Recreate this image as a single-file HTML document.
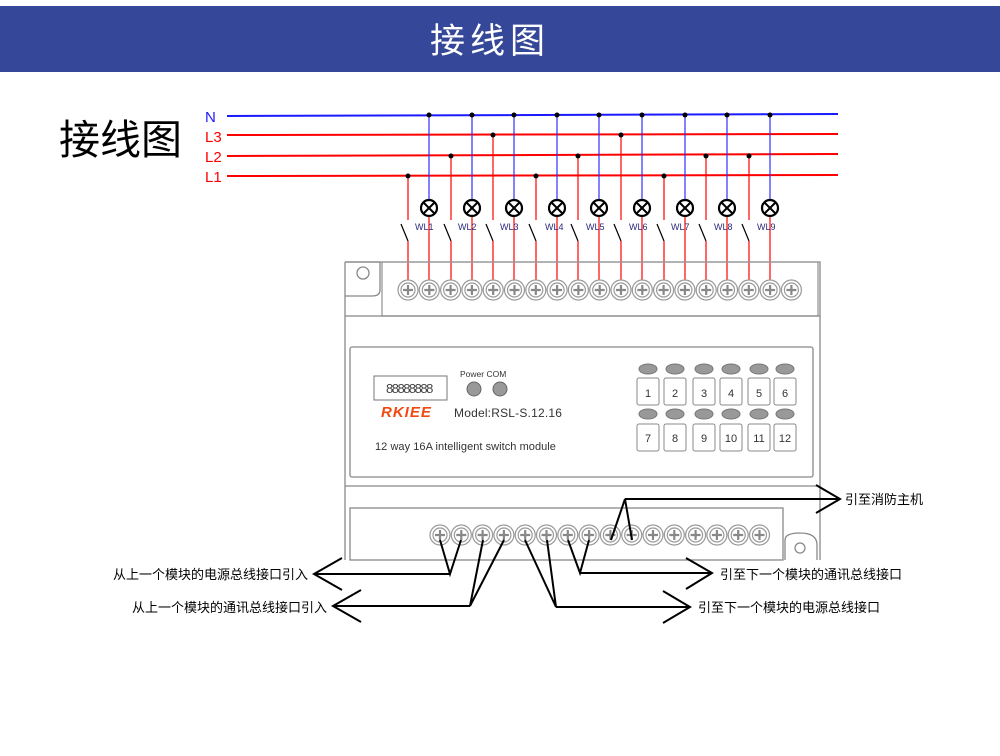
<!DOCTYPE html>
<html><head><meta charset="utf-8"><style>
html,body{margin:0;padding:0;background:#fff;}
svg{display:block}
text{font-family:"Liberation Sans","Noto Sans CJK SC",sans-serif;}
</style></head><body>
<svg id="s" width="1000" height="756" viewBox="0 0 1000 756" xmlns="http://www.w3.org/2000/svg">
<rect x="0" y="6" width="1000" height="66" fill="#354798"/>
<text x="490" y="53" font-size="35" fill="#fff" text-anchor="middle" letter-spacing="5" font-family="Noto Sans CJK SC,sans-serif">接线图</text>
<text x="59" y="154" font-size="41" fill="#000" font-family="Noto Sans CJK SC,sans-serif">接线图</text>
<text x="205" y="122" font-size="15" fill="#1a1aff">N</text>
<text x="205" y="142" font-size="15" fill="#f00">L3</text>
<text x="205" y="162" font-size="15" fill="#f00">L2</text>
<text x="205" y="182" font-size="15" fill="#f00">L1</text>
<line x1="227" y1="116" x2="838" y2="114" stroke="#1a1aff" stroke-width="2"/>
<line x1="227" y1="135" x2="838" y2="134" stroke="#f00" stroke-width="2"/>
<line x1="227" y1="156" x2="838" y2="154" stroke="#f00" stroke-width="2"/>
<line x1="227" y1="176" x2="838" y2="175" stroke="#f00" stroke-width="2"/>
<g id="wires"></g>
<g fill="none" stroke="#888" stroke-width="1.3">
<path d="M345 262 H820 V560"/>
<path d="M345 262 V560"/>
<rect x="382" y="262" width="436" height="54" stroke="#999"/>
<path d="M345 262 H380 V290 Q380 296 372 296 H345"/>
<circle cx="363" cy="273" r="6"/>
<line x1="345" y1="316" x2="820" y2="316"/>
<rect x="350" y="347" width="463" height="130" rx="2"/>
<line x1="345" y1="486" x2="820" y2="486"/>
<rect x="350" y="508" width="433" height="52"/>
<path d="M785 560 V540 Q785 533 800 533 Q817 533 817 545 V560"/>
<circle cx="800" cy="548" r="5"/>
</g>
<g id="terms"></g>
<rect x="374" y="376" width="73" height="24" fill="none" stroke="#777"/>
<text x="386" y="393" font-size="13" fill="#444" font-family="Liberation Mono,monospace" letter-spacing="-1.5">88888888</text>
<text x="460" y="377" font-size="8.5" fill="#333" font-family="Liberation Mono,monospace">Power COM</text>
<circle cx="474" cy="389" r="7" fill="#999" stroke="#666"/>
<circle cx="500" cy="389" r="7" fill="#999" stroke="#666"/>
<text x="381" y="417" font-size="15" fill="#f04a10" font-weight="bold" font-style="italic" letter-spacing="1">RKIEE</text>
<text x="454" y="417" font-size="12" fill="#333" font-family="Liberation Mono,monospace" letter-spacing="0.2">Model:RSL-S.12.16</text>
<text x="375" y="450" font-size="11" fill="#333" font-family="Liberation Mono,monospace" letter-spacing="0.05">12 way 16A intelligent switch module</text>
<g id="btns"></g>
<g font-size="9" fill="#2a2a7a">
<text x="415" y="230">WL1</text><text x="458" y="230">WL2</text><text x="500" y="230">WL3</text>
<text x="545" y="230">WL4</text><text x="586" y="230">WL5</text><text x="629" y="230">WL6</text>
<text x="671" y="230">WL7</text><text x="714" y="230">WL8</text><text x="757" y="230">WL9</text>
</g>
<g fill="none" stroke="#000" stroke-width="2">
<path d="M440 540 L450 574 L461 540 M450 574 H314 M342 558 L314 574 L342 590"/>
<path d="M483 540 L470 606 L504 540 M470 606 H333 M361 590 L333 606 L361 622"/>
<path d="M525 540 L556 607 L547 540 M556 607 H690 M663 591 L690 607 L663 623"/>
<path d="M568 540 L580 573 L589 540 M580 573 H712 M686 558 L712 573 L686 589"/>
<path d="M611 540 L625 499 L632 540 M625 499 H840 M816 485 L840 499 L816 513"/>
</g>
<g font-size="13" fill="#000" font-family="Noto Sans CJK SC,sans-serif">
<text x="113" y="579">从上一个模块的电源总线接口引入</text>
<text x="132" y="612">从上一个模块的通讯总线接口引入</text>
<text x="698" y="612">引至下一个模块的电源总线接口</text>
<text x="720" y="579">引至下一个模块的通讯总线接口</text>
<text x="845" y="504">引至消防主机</text>
</g>
<g id="nums" font-size="11" fill="#333" text-anchor="middle">
<text x="648" y="397">1</text><text x="675" y="397">2</text><text x="704" y="397">3</text><text x="731" y="397">4</text><text x="759" y="397">5</text><text x="785" y="397">6</text>
<text x="648" y="442">7</text><text x="675" y="442">8</text><text x="704" y="442">9</text><text x="731" y="442">10</text><text x="759" y="442">11</text><text x="785" y="442">12</text>
</g>
</svg>
<script>
var NS="http://www.w3.org/2000/svg";
function el(p,t,a){var e=document.createElementNS(NS,t);for(var k in a)e.setAttribute(k,a[k]);document.getElementById(p).appendChild(e);return e;}
function term(p,x,y){el(p,"circle",{cx:x,cy:y,r:10,fill:"#fff",stroke:"#999","stroke-width":1.2});
el(p,"circle",{cx:x,cy:y,r:7,fill:"none",stroke:"#999","stroke-width":1.2});
el(p,"path",{d:"M"+(x-5)+" "+y+"H"+(x+5)+"M"+x+" "+(y-5)+"V"+(y+5),stroke:"#888","stroke-width":2.2,fill:"none"});}
for(var i=0;i<19;i++){term("terms",408+i*21.3,290);}
for(var i=0;i<16;i++){term("terms",440+i*21.3,535);}
var sw=[[408,176],[451,156],[493,135],[536,176],[578,156],[621,135],[664,176],[706,156],[749,156]];
sw.forEach(function(s){var x=s[0];
el("wires","line",{x1:x,y1:s[1],x2:x,y2:220,stroke:"#f00","stroke-width":1.2});
el("wires","circle",{cx:x,cy:s[1],r:2.5,fill:"#000"});
el("wires","line",{x1:x-7,y1:224,x2:x,y2:241,stroke:"#000","stroke-width":1.2});
el("wires","line",{x1:x,y1:241,x2:x,y2:297,stroke:"#f00","stroke-width":1.2});});
for(var i=0;i<9;i++){var x=Math.round(429+i*42.6);
el("wires","line",{x1:x,y1:115,x2:x,y2:200,stroke:"#3030ff","stroke-width":1.2});
el("wires","circle",{cx:x,cy:115,r:2.5,fill:"#000"});
el("wires","line",{x1:x,y1:216,x2:x,y2:297,stroke:"#f00","stroke-width":1.2});
el("wires","circle",{cx:x,cy:208,r:8,fill:"#fff",stroke:"#000","stroke-width":2.2});
el("wires","path",{d:"M"+(x-5.5)+" 202.5L"+(x+5.5)+" 213.5M"+(x+5.5)+" 202.5L"+(x-5.5)+" 213.5",stroke:"#000","stroke-width":2});}
var bx=[648,675,704,731,759,785];
bx.forEach(function(x){
el("btns","ellipse",{cx:x,cy:369,rx:9,ry:5,fill:"#999",stroke:"#777"});
el("btns","rect",{x:x-11,y:378,width:22,height:27,rx:2,fill:"#fff",stroke:"#888"});
el("btns","ellipse",{cx:x,cy:414,rx:9,ry:5,fill:"#999",stroke:"#777"});
el("btns","rect",{x:x-11,y:424,width:22,height:27,rx:2,fill:"#fff",stroke:"#888"});});
</script>
</body></html>
